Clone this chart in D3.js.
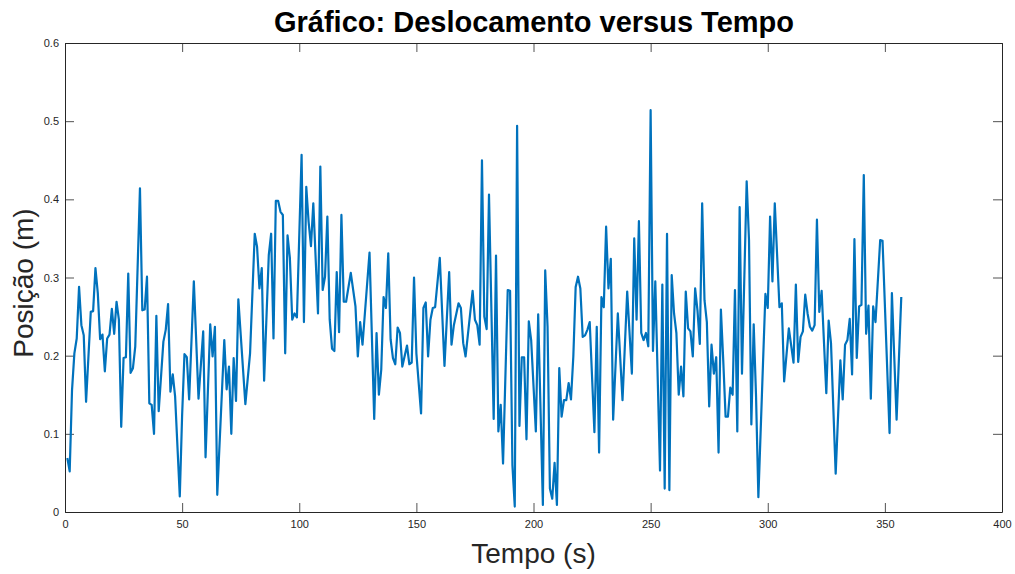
<!DOCTYPE html>
<html>
<head>
<meta charset="utf-8">
<script src="https://cdn.jsdelivr.net/npm/d3@7/dist/d3.min.js"></script>
<style>
  html, body { margin: 0; padding: 0; background: #ffffff; }
  svg { display: block; }
  text { font-family: "Liberation Sans", Arial, Helvetica, sans-serif; }
</style>
</head>
<body>
<svg id="chart" width="1015" height="574"></svg>
<script>
// Tempo (s) of each recorded sample
const tempo = [
  1,2,3,4,5,6,7,8,9,11,12,13,14,15,16,17,18,19,20,21,22,23,24,25,26,27,28,29,30,32,33,34,35,36,37,38,39,40,
  42,43,44,45,46,47,49,50,51,52,53,55,57,59,60,62,63,64,65,68,69,70,71,72,73,74,77,79,81,82,83,84,85,87,88,
  89,90,91,92,93,94,95,96,97,98,99,101,102,103,104,105,106,108,109,110,111,112,113,114,115,116,117,118,119,
  120,122,124,125,126,127,130,132,133,134,135,136,137,138,139,140,141,142,143,144,146,147,148,149,150,152,
  153,154,155,156,157,158,160,162,164,165,166,168,169,170,171,174,175,176,177,178,179,180,181,183,184,185,
  186,187,189,190,191,192,193,194,195,196,197,198,199,201,202,204,205,206,207,208,209,210,211,212,213,214,
  215,216,217,218,219,220,221,222,223,224,226,227,228,229,230,231,232,233,234,236,238,240,242,243,244,245,
  246,247,248,249,250,251,252,254,255,256,257,258,259,260,261,262,263,264,265,266,267,268,269,270,271,272,
  273,274,275,276,277,278,279,280,281,282,283,284,285,286,287,288,289,291,292,293,294,295,296,299,300,301,
  302,303,305,306,307,309,311,312,313,314,315,316,317,318,319,320,321,322,323,325,326,327,329,331,332,333,
  334,335,336,337,338,339,340,341,342,343,344,345,346,348,349,352,353,355,357
];

// Posição (m) at each sample
const posicao = [
  0.069,0.052,0.156,0.203,0.222,0.288,0.239,0.226,0.141,0.256,0.257,0.312,0.280,0.221,0.227,0.180,0.222,0.227,
  0.260,0.228,0.269,0.246,0.109,0.197,0.198,0.305,0.178,0.184,0.212,0.414,0.258,0.259,0.301,0.139,0.137,0.100,
  0.251,0.129,
  0.218,0.233,0.266,0.154,0.176,0.148,0.020,0.124,0.202,0.198,0.144,0.295,0.145,0.231,0.070,0.240,0.199,0.237,
  0.022,0.220,0.157,0.186,0.100,0.197,0.142,0.272,0.138,0.203,0.356,0.339,0.286,0.312,0.168,0.329,0.356,
  0.222,0.398,0.398,0.384,0.380,0.203,0.354,0.325,0.246,0.254,0.249,0.457,0.243,0.416,0.371,0.340,0.395,0.254,
  0.442,0.284,0.301,0.378,0.246,0.209,0.206,0.307,0.230,0.380,0.269,
  0.269,0.306,0.263,0.199,0.243,0.214,0.332,0.119,0.229,0.150,0.182,0.275,0.261,0.331,0.221,0.197,0.189,0.236,
  0.229,0.186,0.213,0.189,0.191,0.300,0.203,0.126,
  0.261,0.268,0.199,0.246,0.261,0.262,0.325,0.187,0.307,0.214,0.239,0.267,0.261,0.216,0.199,0.283,0.246,0.239,
  0.214,0.450,0.250,0.234,0.406,0.119,0.328,0.103,
  0.137,0.062,0.284,0.283,0.060,0.007,0.494,0.110,0.198,0.198,0.093,0.244,0.220,0.103,0.253,0.009,0.309,0.237,
  0.030,0.017,0.063,0.009,0.184,0.122,0.143,0.143,
  0.165,0.144,0.199,0.288,0.301,0.286,0.224,0.226,0.233,0.243,0.102,0.237,0.076,0.275,0.262,0.365,0.286,0.324,
  0.118,0.254,0.143,0.282,0.177,0.350,0.246,0.372,
  0.229,0.220,0.229,0.212,0.514,0.206,0.295,0.053,0.291,0.030,0.356,0.028,0.303,0.254,0.229,0.150,0.186,0.148,
  0.282,0.235,0.231,0.199,0.286,0.258,0.215,0.395,
  0.271,0.243,0.135,0.214,0.177,0.198,0.076,0.259,0.194,0.122,0.122,0.159,0.150,0.284,0.103,0.390,0.177,0.423,
  0.348,0.112,0.240,0.148,0.019,0.279,0.261,0.378,
  0.295,0.395,0.262,0.267,0.167,0.235,0.191,0.291,0.192,0.224,0.231,0.278,0.254,0.237,0.232,0.239,0.374,0.256,
  0.283,0.152,0.245,0.216,0.049,0.194,0.144,0.214,
  0.220,0.247,0.176,0.349,0.197,0.263,0.265,0.431,0.228,0.264,0.145,0.263,0.243,0.348,0.347,0.101,0.280,0.118,
  0.275
];

const xTicks = [0, 50, 100, 150, 200, 250, 300, 350, 400];
const yTicks = [0, 0.1, 0.2, 0.3, 0.4, 0.5, 0.6];

const titulo = "Gráfico: Deslocamento versus Tempo";
const rotuloX = "Tempo (s)";
const rotuloY = "Posição (m)";

const svg = d3.select("#chart");
const margem = { esq: 65, dir: 1002, topo: 43, base: 512 };
const axisColor = "#262626";

const x = d3.scaleLinear().domain([0, 400]).range([margem.esq, margem.dir]);
const y = d3.scaleLinear().domain([0, 0.6]).range([margem.base, margem.topo]);

const fmtY = d => String(+(+d).toFixed(1));

function styleAxis(g) {
  g.selectAll("path.domain").attr("stroke", axisColor).attr("stroke-width", 1);
  g.selectAll(".tick line").attr("stroke", axisColor).attr("stroke-width", 0.8);
  g.selectAll(".tick text")
    .attr("fill", axisColor)
    .style("font-size", "11px")
    .style("font-family", "'Liberation Sans', Arial, Helvetica, sans-serif");
}

// bottom axis with labels, ticks pointing inward
svg.append("g")
  .attr("transform", `translate(0,${margem.base})`)
  .call(d3.axisBottom(x).tickValues(xTicks).tickSize(-9).tickSizeOuter(0).tickPadding(8))
  .call(styleAxis);

// top axis (ticks only)
svg.append("g")
  .attr("transform", `translate(0,${margem.topo})`)
  .call(d3.axisTop(x).tickValues(xTicks).tickSize(-9).tickSizeOuter(0).tickFormat(""))
  .call(styleAxis);

// left axis with labels
svg.append("g")
  .attr("transform", `translate(${margem.esq},0)`)
  .call(d3.axisLeft(y).tickValues(yTicks).tickSize(-9).tickSizeOuter(0).tickPadding(6).tickFormat(fmtY))
  .call(styleAxis);

// right axis (ticks only)
svg.append("g")
  .attr("transform", `translate(${margem.dir},0)`)
  .call(d3.axisRight(y).tickValues(yTicks).tickSize(-9).tickSizeOuter(0).tickFormat(""))
  .call(styleAxis);

// data line
const line = d3.line()
  .x((d, i) => x(tempo[i]))
  .y(d => y(d));

svg.append("path")
  .datum(posicao)
  .attr("fill", "none")
  .attr("stroke", "#0072BD")
  .attr("stroke-width", 2.2)
  .attr("stroke-linejoin", "round")
  .attr("d", line);

// title
svg.append("text")
  .attr("x", 534)
  .attr("y", 32)
  .attr("text-anchor", "middle")
  .style("font-size", "29px")
  .style("font-weight", "bold")
  .attr("fill", "#000")
  .text(titulo);

// x label
svg.append("text")
  .attr("x", (margem.esq + margem.dir) / 2)
  .attr("y", 563)
  .attr("text-anchor", "middle")
  .style("font-size", "28px")
  .attr("fill", axisColor)
  .text(rotuloX);

// y label
svg.append("text")
  .attr("transform", `translate(33,283) rotate(-90)`)
  .attr("text-anchor", "middle")
  .style("font-size", "28px")
  .attr("fill", axisColor)
  .text(rotuloY);
</script>
</body>
</html>
